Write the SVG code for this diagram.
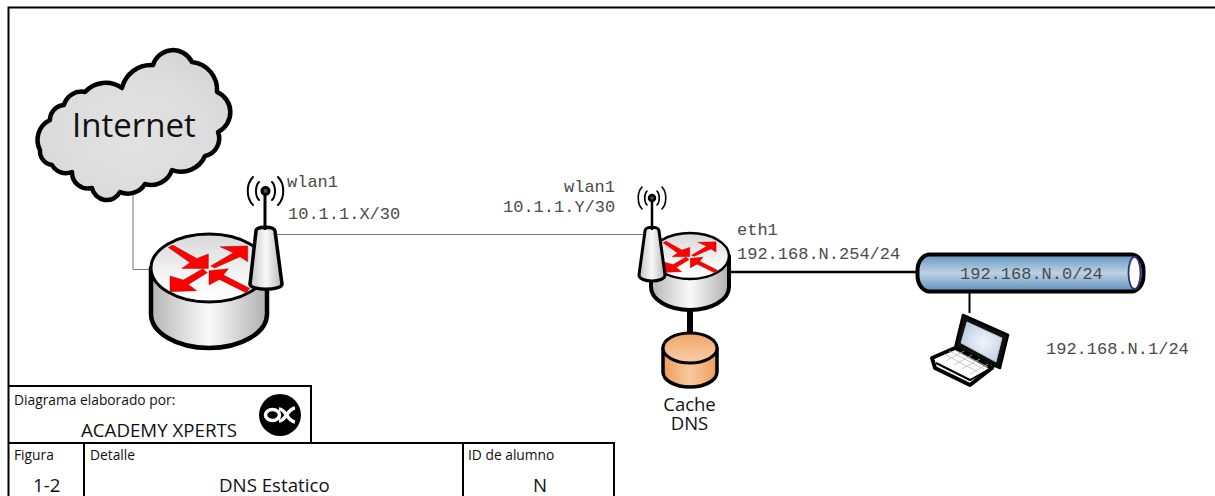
<svg xmlns="http://www.w3.org/2000/svg" xmlns:xlink="http://www.w3.org/1999/xlink" width="1215" height="496" viewBox="0 0 1215 496">
<style>
.mono{font-family:"Liberation Mono",monospace;font-size:17px;fill:#4a4a4a}
.sans{font-family:"Open Sans","Noto Sans",sans-serif;fill:#111}
.s13{font-size:13.800px}
.s18{font-size:18.700px}
.k{stroke:#000;stroke-linejoin:round}
.grid{stroke:#000;stroke-width:2;fill:none}
.link{fill:none;stroke:#777;stroke-width:1}
.wave{fill:none;stroke:#000;stroke-linecap:round}
</style>
<defs>
<linearGradient id="side" x1="0" x2="1" y1="0" y2="0"><stop offset="0" stop-color="#b5b5b5"/><stop offset=".5" stop-color="#fafafa"/><stop offset="1" stop-color="#b0b0b0"/></linearGradient>
<linearGradient id="top" x1="0" x2="0" y1="0" y2="1"><stop offset="0" stop-color="#d8d8d8"/><stop offset=".6" stop-color="#f4f4f4"/><stop offset="1" stop-color="#fff"/></linearGradient>
<linearGradient id="ant" x1="0" x2="1" y1="0" y2="0"><stop offset="0" stop-color="#c4c4c4"/><stop offset=".5" stop-color="#f8f8f8"/><stop offset="1" stop-color="#b8b8b8"/></linearGradient>
<linearGradient id="tube" x1="0" x2="0" y1="0" y2="1"><stop offset="0" stop-color="#5f94bf"/><stop offset=".5" stop-color="#bdd2e4"/><stop offset="1" stop-color="#5a8fbb"/></linearGradient>
<linearGradient id="db" x1="0" x2="1" y1="0" y2="0"><stop offset="0" stop-color="#ee9c5a"/><stop offset=".5" stop-color="#f8c9a0"/><stop offset="1" stop-color="#ee9c5a"/></linearGradient>
<linearGradient id="dbtop" x1="0" x2="0" y1="0" y2="1"><stop offset="0" stop-color="#f0a565"/><stop offset="1" stop-color="#f8cda8"/></linearGradient>
<radialGradient id="cloud" cx=".5" cy=".55" r=".6"><stop offset="0" stop-color="#e2e2e2"/><stop offset=".7" stop-color="#dcdcdc"/><stop offset="1" stop-color="#d4d4d4"/></radialGradient>
<radialGradient id="screen" cx=".55" cy=".5" r=".6"><stop offset="0" stop-color="#f2f5fa"/><stop offset="1" stop-color="#bccde6"/></radialGradient>
<g id="arrows" fill="#f00" stroke="#800" stroke-width=".4">
<polygon points="-40.3,-21.3 -36,-23.7 -12,-10.3 -.3,-14.7 -.3,-.3 -27,-.3 -18.7,-6"/>
<polygon points="2,-2.7 24.7,-16 11.3,-22 39,-22.7 39,-7 31.3,-12 6,-.7"/>
<polygon points="-6,0 -25.3,11.3 -38.7,7.3 -38.7,23 -12,22 -20.3,15.7 -1.3,4"/>
<polygon points=".3,2 19.7,0 14.7,6.3 41.3,19.7 37.3,24 10.7,10.7 .3,16.3"/>
</g>
</defs>

<g id="frame"><path d="M8.500 496V7.500H1215" fill="none" stroke="#000" stroke-width="2"/></g>

<g id="connectors">
<path class="link" d="M133 188V269.500H152"/>
<path class="link" d="M275 234.500H645"/>
<path d="M729 272H917" stroke="#000" stroke-width="2.500" fill="none"/>
<path d="M690 309V335" stroke="#000" stroke-width="6" fill="none"/>
<path d="M969.500 292V313" stroke="#000" stroke-width="2" fill="none"/>
</g>

<g id="internet">
<path class="k" fill="url(#cloud)" stroke-width="4.500" d="M40 150A22 22 0 0 1 50 120A15 15 0 0 1 64 105A18 18 0 0 1 85 92A28 28 0 0 1 122 88A30 30 0 0 1 153 65A21 21 0 0 1 192 62A28 28 0 0 1 217 92A22 22 0 0 1 218 132A18 18 0 0 1 205 156A26 26 0 0 1 172 170A22 22 0 0 1 145 184A20 20 0 0 1 120 192A15 15 0 0 1 92 188A16 16 0 0 1 72 172A16 16 0 0 1 52 165A14 14 0 0 1 40 150Z"/>
<text class="sans" x="72" y="137" font-size="33">Internet</text>
</g>

<g id="router1">
<path class="k" fill="url(#side)" stroke-width="4.500" d="M151 268V314A58 34 0 0 0 267 314V268Z"/>
<ellipse class="k" fill="url(#top)" stroke-width="3" cx="209" cy="268" rx="58" ry="34"/>
<use xlink:href="#arrows" href="#arrows" transform="translate(208.700 268.700)"/>
<path class="k" fill="url(#ant)" stroke-width="3.500" d="M256 231C256 226 274 226 275 231L282 284C282 291 250 291 250 284Z"/>
<path d="M265 230V192" stroke="#000" stroke-width="3"/>
<circle cx="265.500" cy="191" r="3.500" fill="#555" stroke="#000" stroke-width="3"/>
<path class="wave" stroke-width="2" d="M259 182C255 186 255 196 259 200M272 182C276 186 276 196 272 200"/>
<path class="wave" stroke-width="2" d="M253 177C246 184 246 198 253 205M278 177C285 184 285 198 278 205"/>
</g>

<g id="router2">
<path class="k" fill="url(#side)" stroke-width="4" d="M651 256V287A39 23 0 0 0 729 287V256Z"/>
<ellipse class="k" fill="url(#top)" stroke-width="2.500" cx="690" cy="256" rx="39" ry="23"/>
<use xlink:href="#arrows" href="#arrows" transform="translate(690 257) scale(.67)"/>
<path class="k" fill="url(#ant)" stroke-width="3" d="M645 231C645 226 659 226 659 231L665 275C665 283 639 283 639 275Z"/>
<path d="M652 230V199" stroke="#000" stroke-width="2.500"/>
<circle cx="652" cy="198" r="3" fill="#555" stroke="#000" stroke-width="2.500"/>
<path class="wave" stroke-width="1.600" d="M647 191C644 194 644 202 647 205M657 191C660 194 660 202 657 205"/>
<path class="wave" stroke-width="1.600" d="M642 187C637 192 637 204 642 209M662 187C667 192 667 204 662 209"/>
</g>

<g id="cache">
<path class="k" fill="url(#db)" stroke-width="3.500" d="M663 348V372A27 15 0 0 0 717 372V348Z"/>
<ellipse class="k" fill="url(#dbtop)" stroke-width="3" cx="690" cy="348" rx="27" ry="15"/>
<text class="sans" font-size="18.500" text-anchor="middle"><tspan x="689.500" y="411">Cache</tspan><tspan x="689.500" y="430">DNS</tspan></text>
</g>

<g id="subnet">
<rect x="917.500" y="254.500" width="226" height="37" rx="12" ry="16" fill="url(#tube)" stroke="#000" stroke-width="4"/>
<ellipse cx="1134.500" cy="273" rx="6" ry="16" fill="#fff" stroke="#33337a" stroke-width="1.800"/>
<text class="mono" x="960" y="279">192.168.N.0/24</text>
</g>

<g id="laptop">
<path d="M932 358L955 348L992 368L970 385L935 368Z" fill="#fff" stroke="#000" stroke-width="4" stroke-linejoin="round"/>
<path d="M936 363L970 380L995 366" fill="none" stroke="#000" stroke-width="2"/>
<path d="M963 315L1008 335L1000 368L955 348Z" fill="#111" stroke="#000" stroke-width="2.500" stroke-linejoin="round"/>
<path d="M967 322L1002 338L996 362L961 343Z" fill="url(#screen)" stroke="#ccc" stroke-width=".8"/>
<path d="M944 354L978 372M949 351L984 369M955 350L988 367M946 361L964 351M954 365L972 355M962 369L980 359M970 374L988 364" stroke="#bbb" stroke-width=".8" fill="none"/>
<text class="mono" x="1046" y="354">192.168.N.1/24</text>
</g>

<g id="labels">
<text class="mono" x="287" y="187">wlan1</text>
<text class="mono" x="288" y="219">10.1.1.X/30</text>
<text class="mono" x="564" y="192">wlan1</text>
<text class="mono" x="503" y="212">10.1.1.Y/30</text>
<text class="mono" x="737" y="235">eth1</text>
<text class="mono" x="737" y="259">192.168.N.254/24</text>
</g>

<g id="titleblock">
<path class="grid" d="M8 386H311V443M8 443H614V496M84 443V496M463 443V496"/>
<text class="sans s13" x="14" y="405">Diagrama elaborado por:</text>
<text class="sans s18" x="81" y="437">ACADEMY XPERTS</text>
<circle cx="280" cy="415" r="21" fill="#000"/>
<ellipse cx="272.500" cy="415" rx="7" ry="5.500" fill="none" stroke="#fff" stroke-width="3.500"/>
<path d="M279 421C286 421 287 409 295 408M279 409C286 409 287 421 295 422" fill="none" stroke="#fff" stroke-width="3.500"/>
<text class="sans s13" x="14" y="460">Figura</text>
<text class="sans s13" x="90" y="460">Detalle</text>
<text class="sans s13" x="468" y="460">ID de alumno</text>
<text class="sans s18" x="33" y="492">1-2</text>
<text class="sans s18" x="219" y="492">DNS Estatico</text>
<text class="sans s18" x="533" y="492">N</text>
</g>
</svg>
